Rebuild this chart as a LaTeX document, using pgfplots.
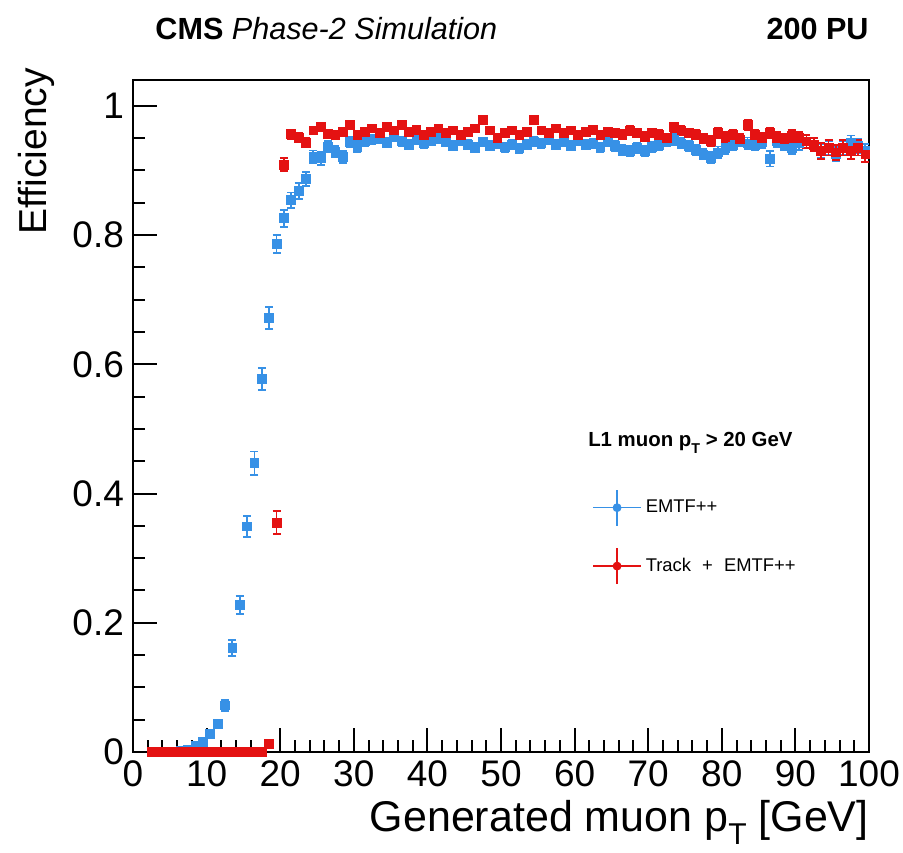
\documentclass[border=0pt]{standalone}
\usepackage{pgfplots}
\pgfplotsset{compat=1.18}
\usepackage{pgfplotstable}
\usepackage{fontspec}
\setmainfont{Liberation Sans}
\definecolor{emtfblue}{RGB}{55,145,230}
\definecolor{trkred}{RGB}{228,18,18}
\newcommand{\subT}[1]{\raisebox{-0.3em}{\scalebox{0.7}{#1}}}

\pgfplotstableread{
x y ey
2.5 0 0
3.5 0 0
4.5 0 0
5.5 0.001 0.001
6.5 0.002 0.002
7.5 0.004 0.002
8.5 0.009 0.003
9.5 0.016 0.004
10.5 0.028 0.005
11.5 0.043 0.006
12.5 0.072 0.008
13.5 0.161 0.012
14.5 0.228 0.014
15.5 0.349 0.016
16.5 0.447 0.018
17.5 0.577 0.017
18.5 0.672 0.017
19.5 0.786 0.014
20.5 0.826 0.013
21.5 0.854 0.012
22.5 0.868 0.012
23.5 0.887 0.011
24.5 0.921 0.010
25.5 0.919 0.010
26.5 0.937 0.009
27.5 0.929 0.009
28.5 0.921 0.009
29.5 0.944 0.008
30.5 0.937 0.008
31.5 0.945 0.007
32.5 0.948 0.007
33.5 0.950 0.007
34.5 0.943 0.007
35.5 0.952 0.007
36.5 0.945 0.007
37.5 0.940 0.007
38.5 0.948 0.007
39.5 0.942 0.007
40.5 0.946 0.007
41.5 0.950 0.007
42.5 0.944 0.007
43.5 0.938 0.007
44.5 0.946 0.007
45.5 0.940 0.007
46.5 0.935 0.007
47.5 0.944 0.007
48.5 0.938 0.007
49.5 0.942 0.007
50.5 0.936 0.007
51.5 0.940 0.007
52.5 0.934 0.007
53.5 0.940 0.007
54.5 0.945 0.007
55.5 0.942 0.007
56.5 0.948 0.007
57.5 0.940 0.007
58.5 0.944 0.007
59.5 0.938 0.007
60.5 0.946 0.007
61.5 0.940 0.007
62.5 0.942 0.007
63.5 0.936 0.007
64.5 0.944 0.007
65.5 0.938 0.008
66.5 0.932 0.008
67.5 0.930 0.008
68.5 0.935 0.008
69.5 0.930 0.008
70.5 0.936 0.008
71.5 0.940 0.008
72.5 0.945 0.008
73.5 0.948 0.008
74.5 0.942 0.008
75.5 0.938 0.008
76.5 0.932 0.008
77.5 0.925 0.008
78.5 0.920 0.008
79.5 0.928 0.009
80.5 0.934 0.009
81.5 0.940 0.009
82.5 0.946 0.009
83.5 0.942 0.009
84.5 0.940 0.009
85.5 0.944 0.009
86.5 0.918 0.012
87.5 0.945 0.009
88.5 0.940 0.009
89.5 0.935 0.010
90.5 0.942 0.010
91.5 0.945 0.010
92.5 0.940 0.010
93.5 0.930 0.011
94.5 0.935 0.011
95.5 0.925 0.011
96.5 0.935 0.011
97.5 0.943 0.011
98.5 0.938 0.011
99.5 0.930 0.011
}\emtf

\pgfplotstableread{
x y ey
2.5 0 0
3.5 0 0
4.5 0 0
5.5 0 0
6.5 0 0
7.5 0 0
8.5 0 0
9.5 0 0
10.5 0 0
11.5 0 0
12.5 0 0
13.5 0 0
14.5 0 0
15.5 0 0
16.5 0 0
17.5 0 0
18.5 0.012 0.004
19.5 0.355 0.018
20.5 0.909 0.010
21.5 0.956 0.007
22.5 0.951 0.007
23.5 0.943 0.007
24.5 0.962 0.006
25.5 0.968 0.006
26.5 0.957 0.006
27.5 0.955 0.006
28.5 0.960 0.006
29.5 0.970 0.006
30.5 0.955 0.006
31.5 0.960 0.006
32.5 0.965 0.006
33.5 0.958 0.006
34.5 0.968 0.006
35.5 0.962 0.006
36.5 0.970 0.006
37.5 0.960 0.006
38.5 0.963 0.006
39.5 0.955 0.006
40.5 0.960 0.006
41.5 0.965 0.006
42.5 0.958 0.006
43.5 0.962 0.006
44.5 0.955 0.006
45.5 0.960 0.006
46.5 0.965 0.006
47.5 0.978 0.006
48.5 0.962 0.006
49.5 0.950 0.006
50.5 0.958 0.006
51.5 0.962 0.006
52.5 0.955 0.006
53.5 0.960 0.006
54.5 0.978 0.006
55.5 0.962 0.006
56.5 0.958 0.006
57.5 0.965 0.006
58.5 0.958 0.006
59.5 0.962 0.006
60.5 0.955 0.006
61.5 0.960 0.006
62.5 0.963 0.006
63.5 0.955 0.006
64.5 0.960 0.006
65.5 0.958 0.007
66.5 0.955 0.007
67.5 0.962 0.007
68.5 0.958 0.007
69.5 0.952 0.007
70.5 0.958 0.007
71.5 0.955 0.007
72.5 0.950 0.007
73.5 0.967 0.007
74.5 0.962 0.007
75.5 0.958 0.007
76.5 0.955 0.007
77.5 0.950 0.007
78.5 0.945 0.008
79.5 0.958 0.008
80.5 0.952 0.008
81.5 0.955 0.008
82.5 0.948 0.008
83.5 0.970 0.008
84.5 0.955 0.008
85.5 0.950 0.008
86.5 0.958 0.008
87.5 0.950 0.009
88.5 0.948 0.009
89.5 0.953 0.009
90.5 0.950 0.009
91.5 0.945 0.010
92.5 0.940 0.010
93.5 0.930 0.012
94.5 0.935 0.012
95.5 0.928 0.012
96.5 0.935 0.012
97.5 0.930 0.012
98.5 0.935 0.012
99.5 0.925 0.012
}\trk

\begin{document}
\begin{tikzpicture}
\path[use as bounding box] (-66.5pt,-50pt) rectangle (385pt,376pt);
\begin{axis}[
  at={(0,0)}, anchor=south west,
  scale only axis, width=368pt, height=336pt,
  xmin=0, xmax=100, ymin=0, ymax=1.04,
  xtick={0,10,...,100}, minor x tick num=4,
  ytick={0,0.2,0.4,0.6,0.8,1}, yticklabels={0,0.2,0.4,0.6,0.8,1},
  minor y tick num=3,
  xtick pos=bottom, ytick pos=left,
  tick align=inside,
  major tick length=12pt, minor tick length=6pt,
  axis line style={line width=1.2pt},
  every tick/.style={line width=1pt, black},
  /pgf/number format/assume math mode=true,
  tick label style={font=\fontsize{18.5}{20}\selectfont},
  xticklabel style={yshift=-1pt},
  yticklabel style={xshift=-1pt},
  xlabel={Generated muon p\subT{T} [GeV]},
  ylabel={Efficiency},
  ylabel style={font=\fontsize{19.5}{22}\selectfont, at={(rel axis cs:-0.117,1.028)}, anchor=base east},
  xlabel style={font=\fontsize{21.5}{24}\selectfont, at={(rel axis cs:1,-0.119)}, anchor=base east, inner sep=0pt},
  clip=false,
  legend cell align=left,
  legend style={draw=none, fill=none, at={(rel axis cs:0.6236,0.392)}, anchor=north west,
    font=\fontsize{9.2}{11}\selectfont, row sep=10.5pt, inner sep=0pt},
]
\addlegendimage{legend image code/.code={
  \draw[emtfblue, line width=0.7pt] (0pt,0pt) -- (24pt,0pt);
  \draw[emtfblue, line width=0.7pt] (12pt,-9pt) -- (12pt,9pt);
  \fill[emtfblue] (12pt,0pt) circle (2pt);}}
\addlegendentry{EMTF++}
\addlegendimage{legend image code/.code={
  \draw[trkred, line width=0.7pt] (0pt,0pt) -- (24pt,0pt);
  \draw[trkred, line width=0.7pt] (12pt,-9pt) -- (12pt,9pt);
  \fill[trkred] (12pt,0pt) circle (2pt);}}
\addlegendentry{Track\hspace{3pt} +\hspace{3pt} EMTF++}

\addplot[forget plot, only marks, mark=square*, mark size=2.2pt, color=emtfblue,
  error bars/.cd, y dir=both, y explicit,
  error bar style={line width=0.9pt, emtfblue},
  error mark options={rotate=90, mark size=2pt, line width=0.9pt}]
  table[x=x, y=y, y error=ey] {\emtf};
\addplot[forget plot, only marks, mark=square*, mark size=2.2pt, color=trkred,
  error bars/.cd, y dir=both, y explicit,
  error bar style={line width=0.9pt, trkred},
  error mark options={rotate=90, mark size=2pt, line width=0.9pt}]
  table[x=x, y=y, y error=ey] {\trk};

\node[anchor=base west, inner sep=0pt, font=\fontsize{15.3}{17}\selectfont] at (rel axis cs:0.03,1) [yshift=20pt] {\textbf{CMS} \textit{Phase-2 Simulation}};
\node[anchor=base east, inner sep=0pt, font=\fontsize{15.3}{17}\selectfont\bfseries] at (rel axis cs:1,1) [yshift=20pt] {200 PU};
\node[anchor=base west, inner sep=0pt, font=\fontsize{10.2}{12}\selectfont\bfseries] at (rel axis cs:0.618,0.454) {L1 muon p\subT{T} > 20 GeV};
\end{axis}
\end{tikzpicture}
\end{document}
